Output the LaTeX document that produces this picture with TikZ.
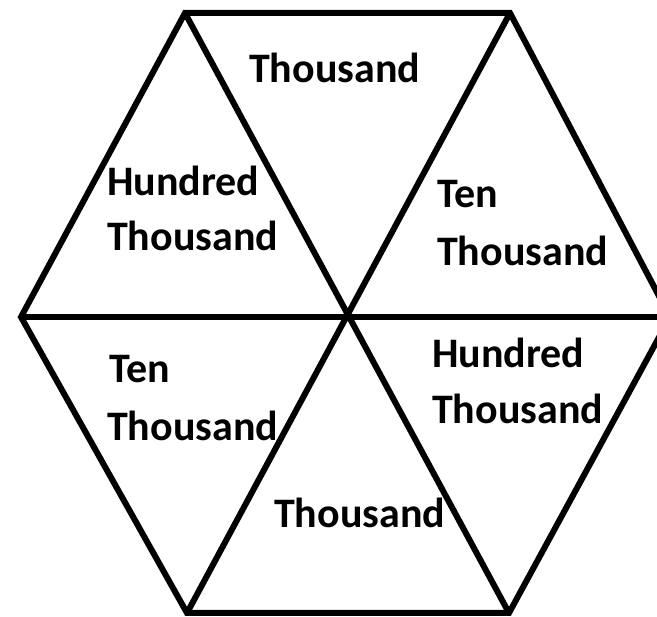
\documentclass[tikz,border=0pt]{standalone}
\usepackage{fontspec}
\setmainfont{Carlito}
\tikzset{
  edge/.style={line width=6pt, line join=miter, black},
  lbl/.style={anchor=base west, inner sep=0pt, font=\fontsize{42}{55}\selectfont\bfseries}
}
\begin{document}
\begin{tikzpicture}[x=1pt,y=-1pt]
\useasboundingbox (0,0) rectangle (657,617);
\coordinate (A) at (185,13);
\coordinate (B) at (510,13);
\coordinate (C) at (670,317);
\coordinate (D) at (509,613);
\coordinate (E) at (187,613);
\coordinate (F) at (21,317);
\coordinate (O) at (348,316);
\draw[edge] (A) -- (B) -- (C) -- (D) -- (E) -- (F) -- cycle;
\draw[edge] (A) -- (D);
\draw[edge] (B) -- (E);
\draw[edge] (F) -- (C);
\node[lbl] (t1) at (249,83) {Thousand};
\node[lbl] (h1a) at (107,196) {Hundred};
\node[lbl] (h1b) at (107,251) {Thousand};
\node[lbl] (r1a) at (437,208) {Ten};
\node[lbl] (r1b) at (437,266) {Thousand};
\node[lbl] (l2a) at (109,383) {Ten};
\node[lbl] (l2b) at (107,441) {Thousand};
\node[lbl] (h2a) at (432,368) {Hundred};
\node[lbl] (h2b) at (432,424) {Thousand};
\node[lbl] (b1) at (274,528) {Thousand};
\end{tikzpicture}
\end{document}
